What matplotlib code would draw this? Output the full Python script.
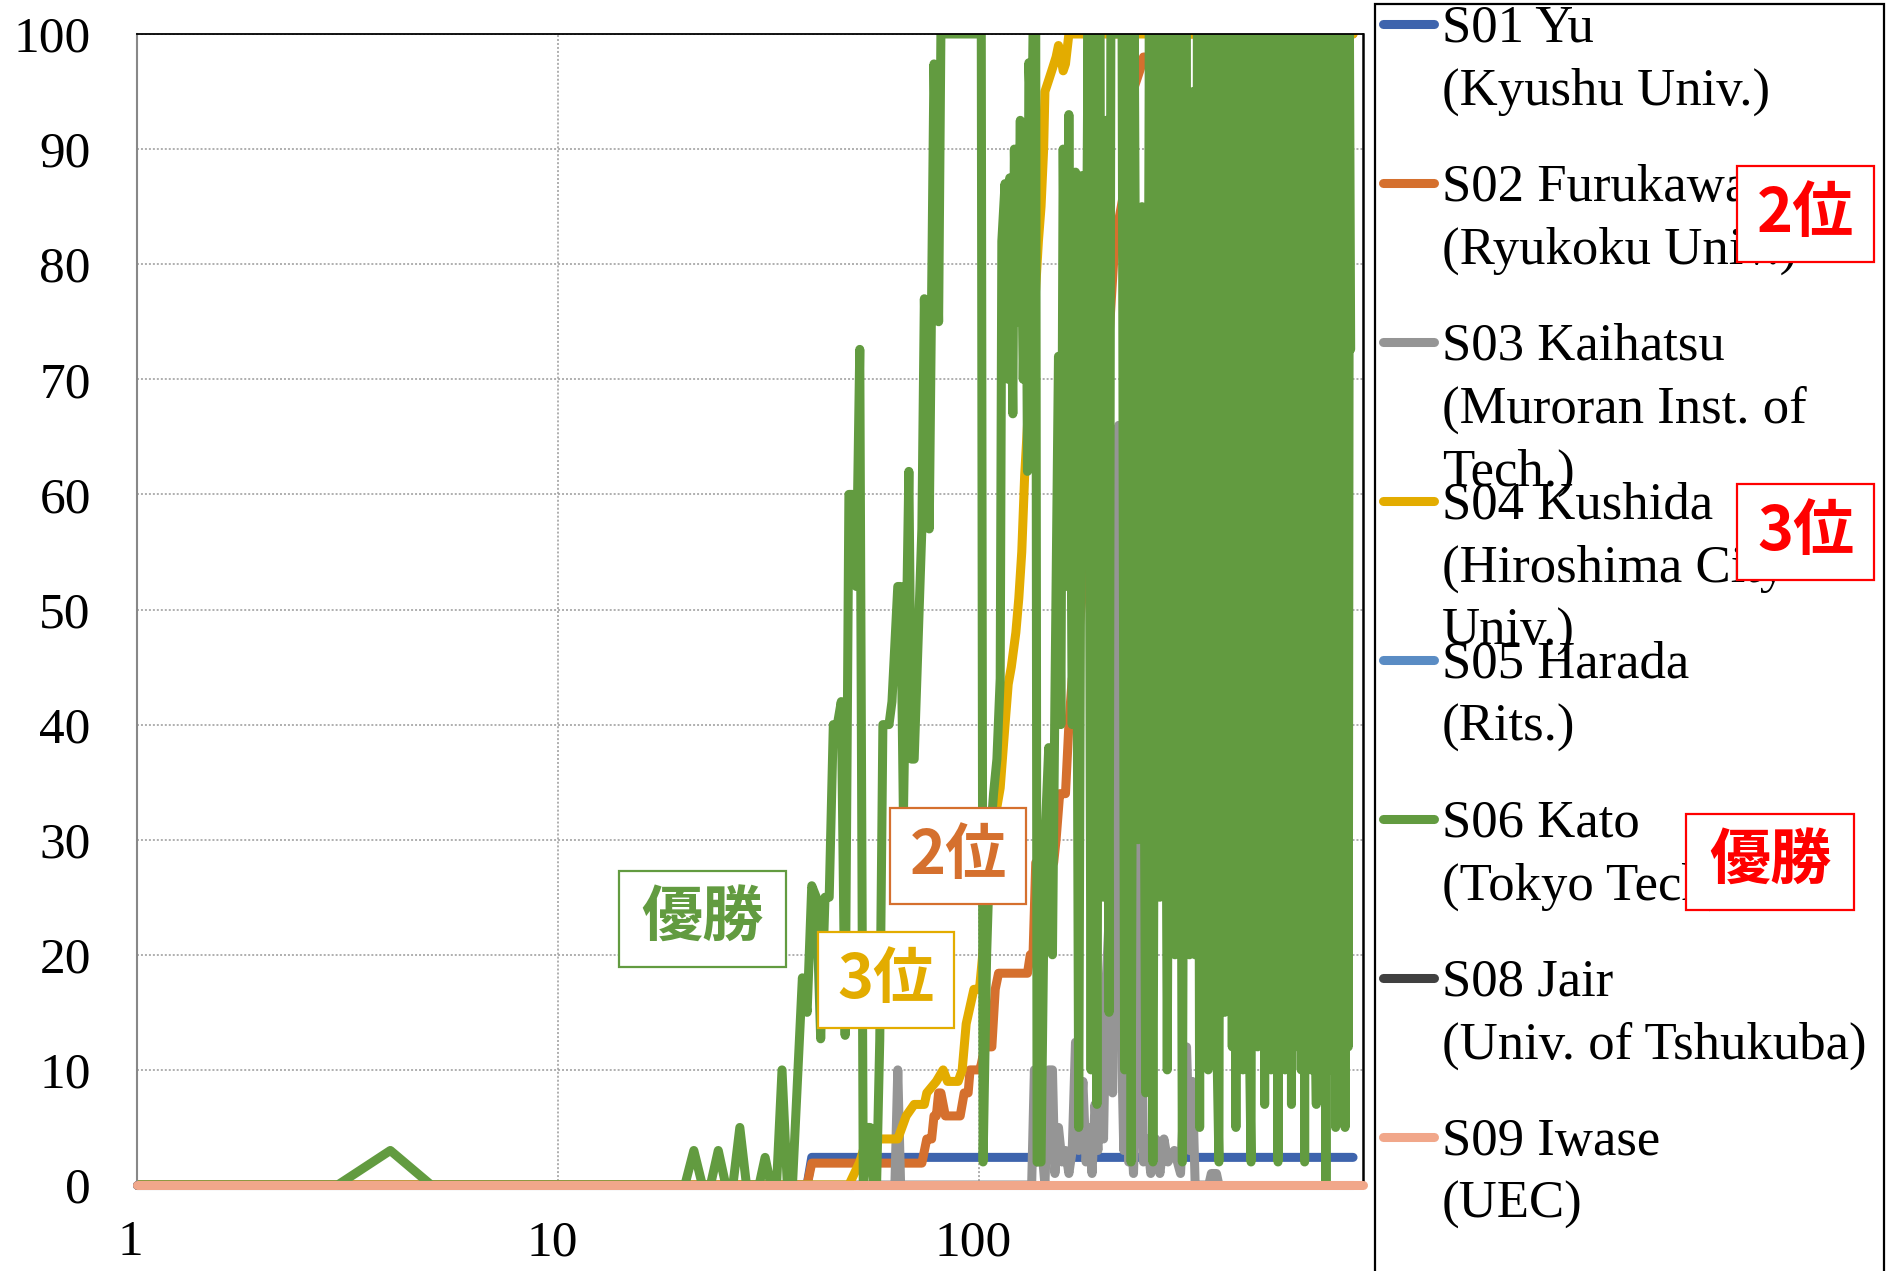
import matplotlib.pyplot as plt
import matplotlib.transforms as mtransforms
from matplotlib.patches import Rectangle
from matplotlib.lines import Line2D

W, H = 1888, 1271

# ---- data (round number vs. score) ----
s01_x = [1, 39, 40, 770]
s01_y = [0, 0, 2.4, 2.4]

s02_x = [1, 39, 40, 73, 75, 77, 78, 79, 80, 81, 83, 90, 92, 94, 95, 100, 101, 103, 107, 109,
         111, 130, 132, 134, 136, 150, 152, 155, 160, 163, 166, 169, 172, 176, 180, 183, 187, 190,
         195, 200, 204, 208, 212, 217, 222, 226, 231, 236, 241, 245, 258, 262, 265, 290, 293, 297, 770]
s02_y = [0, 0, 1.9, 1.9, 4, 4, 6, 6, 8, 8, 6, 6, 8, 8, 10, 10, 10.5, 12, 12, 17,
         18.4, 18.4, 20, 20, 28, 28, 30, 34, 34, 40, 44, 44, 48, 52, 52, 56, 60, 62,
         68, 70, 75, 80, 83, 85, 87, 92, 95, 96, 97, 98, 98, 98.3, 100, 100, 97.7, 100, 100]

s03_x = [1, 63, 64, 65, 133, 135, 137, 140, 143, 146, 149, 151, 154, 157, 160, 163, 166, 169, 172,
         176, 179, 182, 185, 188, 191, 194, 197, 200, 203, 205, 207, 209, 212, 214, 216, 218, 220,
         223, 226, 229, 232, 236, 239, 242, 245, 250, 255, 262, 268, 274, 280, 290, 300, 310, 315,
         320, 325, 350, 355, 365, 370]
s03_y = [0, 0, 10, 0, 0, 10, 2, 4, 0, 10, 10, 1, 5, 2, 3, 1, 3, 12.4, 3,
         9, 2, 5, 1, 7, 3, 10, 4, 18, 23, 33, 8, 30, 48, 66, 30, 10, 3,
         12, 2, 5, 1, 10, 30, 20, 2, 4, 1, 4, 1, 4, 2, 3, 1, 12, 3,
         9, 0, 0, 1, 1, 0]

s04_x = [1, 49, 52, 54, 64, 67, 70, 74, 75, 79, 82, 84, 89, 91, 93, 97, 100, 103, 106, 109,
         112, 115, 117, 119, 122, 124, 126, 128, 130, 132, 134, 136, 138, 140, 142, 143, 146, 149,
         152, 154, 156, 158, 160, 163, 770]
s04_y = [0, 0, 2, 4, 4, 6, 7, 7, 8, 9, 10, 9, 9, 10, 14, 17, 17, 22, 28, 32,
         34.5, 40, 43.5, 45, 48, 51, 55, 61.6, 66, 72, 74, 78, 82, 85, 90, 95, 96, 97,
         98, 99, 98, 96.8, 97.4, 100, 100]

s05_x = [1, 770]
s05_y = [0, 0]

s06_x = [1, 3, 4, 5, 20, 21, 22, 23, 24, 25, 26, 27, 28, 30, 31, 32, 33, 34, 35, 36,
         38, 39, 40, 41, 42, 43, 44, 45, 46, 47, 48, 49, 50, 51, 52, 53, 54, 55, 56, 57,
         58, 59, 61, 62, 64, 65, 66, 68, 69, 70, 73, 74, 76, 78, 80, 81, 101, 102,
         104, 106, 108, 110, 112, 113, 115, 117, 118, 120, 121, 123, 125, 127, 129, 130, 131, 133,
         134, 136, 137, 140, 143, 146, 149, 151, 154, 156, 158, 161, 163, 166, 169, 172, 175, 178,
         181, 184, 187, 190, 193, 197, 200, 203, 205, 218, 221, 226, 229, 233, 238, 243, 248, 253,
         258, 263, 268, 273, 279, 285, 291, 297, 303, 309, 315, 321, 325, 329, 333, 337, 341, 345,
         349, 353, 357, 361, 366, 370, 374, 378, 382, 386, 390, 394, 398, 402, 406, 410, 414, 418,
         422, 426, 430, 434, 438, 441, 445, 449, 453, 457, 461, 465, 469, 475, 480, 484, 488, 492,
         497, 502, 506, 511, 516, 521, 526, 531, 536, 541, 545, 550, 555, 560, 565, 570, 575, 580,
         586, 591, 596, 601, 606, 612, 618, 624, 630, 636, 642, 648, 654, 660, 664, 668, 674, 680,
         686, 692, 700, 706, 712, 718, 724, 730, 737, 744, 750, 755, 760]
s06_y = [0, 0, 3, 0, 0, 3, 0, 0, 3, 0, 0, 5, 0, 0, 2.4, 0, 0, 10, 0, 0,
         18, 15, 26, 25, 12.7, 25, 25, 40, 40, 42, 13, 60, 60, 52, 72.6, 0, 5, 5, 0, 0,
         12.6, 40, 40, 42, 52, 52, 32, 62, 37, 37, 57, 77, 57, 97.4, 75, 100, 100, 2,
         20, 30, 34, 37, 44, 82, 87, 70, 87.5, 67, 90, 75, 92.5, 70, 85, 62, 97.5, 90,
         100, 100, 2, 2, 30, 38, 20, 42, 72, 40, 90, 52, 93, 40, 88, 5, 87.7, 60,
         100, 10, 100, 7, 100, 25, 92.5, 15, 100, 100, 10, 100, 2, 100, 30, 85, 8, 100,
         2, 100, 25, 100, 10, 100, 20, 100, 2, 100, 20, 95, 20, 100, 5, 100, 15, 100,
         10, 100, 22, 100, 12, 2, 100, 100, 15, 100, 20, 90, 12, 100, 5, 100, 15, 100,
         10, 95, 18, 100, 10, 2, 100, 20, 100, 12, 100, 22, 100, 7, 100, 15, 100, 10,
         100, 20, 100, 2, 100, 15, 100, 10, 100, 18, 100, 7, 100, 12, 100, 20, 100, 10,
         100, 2, 100, 15, 100, 10, 100, 18, 7, 100, 12, 100, 10, 100, 0, 100, 15, 100,
         10, 100, 5, 100, 12, 100, 20, 100, 5, 100, 12, 100, 72.6]

s08_x = [1, 50]
s08_y = [0, 0]

s09_x = [1, 813]
s09_y = [0, 0]

series = [
    (s01_x, s01_y, '#3E64AD', ['S01 Yu', '(Kyushu Univ.)']),
    (s02_x, s02_y, '#D5702E', ['S02 Furukawa', '(Ryukoku Univ.)']),
    (s03_x, s03_y, '#959595', ['S03 Kaihatsu', '(Muroran Inst. of', 'Tech.)']),
    (s04_x, s04_y, '#E3AC00', ['S04 Kushida', '(Hiroshima City', 'Univ.)']),
    (s05_x, s05_y, '#5A8CC4', ['S05 Harada', '(Rits.)']),
    (s06_x, s06_y, '#629B40', ['S06 Kato', '(Tokyo Tech)']),
    (s08_x, s08_y, '#404040', ['S08 Jair', '(Univ. of Tshukuba)']),
    (s09_x, s09_y, '#F1A78A', ['S09 Iwase', '(UEC)']),
]

x_ticks = [1, 10, 100]
y_ticks = list(range(0, 101, 10))

serif = 'Liberation Serif'
cjk = ['Noto Sans CJK JP', 'DejaVu Sans']
LW = 6.5


def fx(px):
    return px / W


def fy(py):
    return 1 - py / H


fig = plt.figure(figsize=(W / 100, H / 100), dpi=100)
ax = fig.add_axes([fx(136.6), fy(1185), (1363 - 136.6) / W, (1185 - 34) / H])

for i, (xs, ys, col, _) in enumerate(series):
    on_axis = all(v == 0 for v in ys)
    ax.plot(xs, ys, color=col, lw=LW, solid_capstyle='round', solid_joinstyle='round',
            zorder=2 + i * 0.1, clip_on=not on_axis)

ax.set_xscale('log')
ax.set_xlim(1, 813)
ax.set_ylim(0, 100)
ax.set_xticks(x_ticks)
ax.set_xticklabels([str(t) for t in x_ticks])
ax.xaxis.set_minor_locator(plt.NullLocator())
ax.set_yticks(y_ticks)
ax.tick_params(length=0, labelsize=37)
ax.tick_params(axis='y', pad=33)
ax.tick_params(axis='x', pad=25)
for lab in ax.get_xticklabels() + ax.get_yticklabels():
    lab.set_fontfamily(serif)
shift = mtransforms.ScaledTranslation(-6 / 100, 0, fig.dpi_scale_trans)
for lab in ax.get_xticklabels():
    lab.set_transform(lab.get_transform() + shift)

ax.grid(True, which='major', color='#9a9a9a', lw=1.1, linestyle=(0, (1.3, 1.3)))
ax.set_axisbelow(True)
ax.spines['left'].set_color('#888888')
ax.spines['left'].set_linewidth(1.5)
ax.spines['bottom'].set_color('#888888')
ax.spines['top'].set_color('black')
ax.spines['top'].set_linewidth(1.3)
ax.spines['right'].set_color('black')
ax.spines['right'].set_linewidth(1.8)

# legend panel drawn by hand so entries keep a fixed pitch
fig.add_artist(Rectangle((fx(1375), fy(1290)), (1884 - 1375) / W, (1290 - 4) / H,
                         transform=fig.transFigure, fc='white', ec='black', lw=1.6, zorder=5))
row0, pitch, line_gap = 24, 159, 63
for i, (_, _, col, lines) in enumerate(series):
    yc = row0 + i * pitch
    fig.add_artist(Line2D([fx(1383), fx(1434)], [fy(yc), fy(yc)], transform=fig.transFigure,
                          color=col, lw=LW, solid_capstyle='round', zorder=6))
    for j, t in enumerate(lines):
        fig.text(fx(1442), fy(yc + 17.5 + j * line_gap), t, fontsize=38, family=serif,
                 va='baseline', ha='left', zorder=7)


def tag(x0, y0, x1, y1, text, col, size=44):
    fig.add_artist(Rectangle((fx(x0), fy(y1)), (x1 - x0) / W, (y1 - y0) / H,
                             transform=fig.transFigure, fc='white', ec=col, lw=1.6, zorder=8))
    fig.text(fx((x0 + x1) / 2), fy((y0 + y1) / 2), text, color=col, fontsize=size,
             fontweight='bold', family=cjk, ha='center', va='center', zorder=9)


# placing tags on the legend
tag(1737, 166, 1874, 262, '2位', '#FF0000')
tag(1737, 484, 1874, 580, '3位', '#FF0000')
tag(1686, 814, 1854, 910, '優勝', '#FF0000')

# placing tags inside the plot
tag(619, 871, 786, 967, '優勝', '#629B40')
tag(890, 808, 1026, 904, '2位', '#D5702E')
tag(818, 932, 954, 1028, '3位', '#E3AC00')

fig.savefig('out.png', dpi=100)
